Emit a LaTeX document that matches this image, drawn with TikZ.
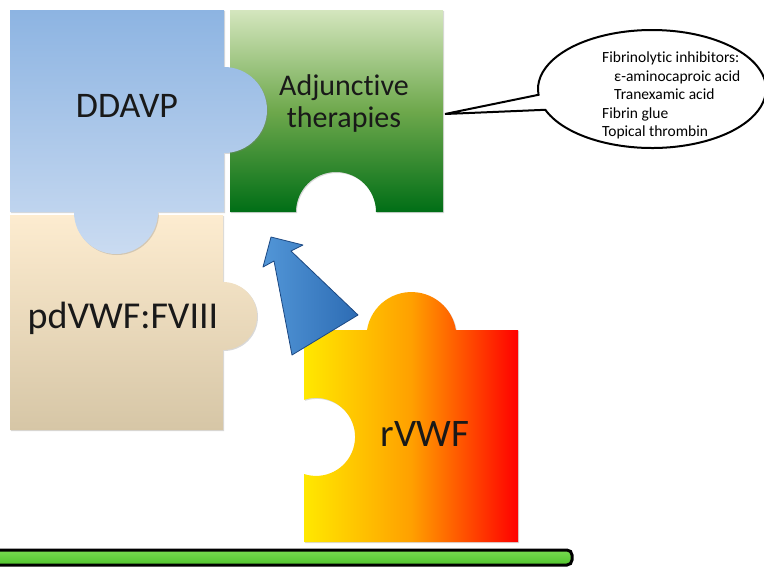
\documentclass[tikz,border=0pt]{standalone}
\usepackage{fontspec}
\setmainfont{Carlito}[Ligatures=NoCommon]
\usetikzlibrary{shapes.callouts, shadows, positioning}

\definecolor{ddavpTop}{RGB}{141,180,226}
\definecolor{ddavpBot}{RGB}{202,219,241}
\definecolor{adjTop}{RGB}{212,230,190}
\definecolor{adjMid}{RGB}{110,168,76}
\definecolor{adjBot}{RGB}{0,110,22}
\definecolor{pdTop}{RGB}{253,236,208}
\definecolor{pdBot}{RGB}{214,198,166}
\definecolor{rvLeft}{RGB}{255,232,0}
\definecolor{rvMid}{RGB}{255,160,0}
\definecolor{rvRight}{RGB}{255,0,0}
\definecolor{arrowLight}{RGB}{82,150,215}
\definecolor{arrowBlue}{RGB}{45,108,180}
\definecolor{arrowEdge}{RGB}{28,72,130}
\definecolor{barLight}{RGB}{120,220,80}
\definecolor{barGreen}{RGB}{80,196,45}

\begin{document}
\begin{tikzpicture}[x=1pt, y=-1pt,
    piece/.style={drop shadow={opacity=0.3, shadow xshift=1pt, shadow yshift=-1pt}},
    piecelabel/.style={font=\fontsize{36}{40}\selectfont, text=black!90, inner sep=0pt},
    bubblestyle/.style={ellipse callout, draw, line width=2pt, fill=white, minimum width=228pt, minimum height=118pt, inner sep=0pt},
    listtext/.style={font=\fontsize{15.5}{18.5}\selectfont, align=left, anchor=north west, inner sep=0pt}
]
\useasboundingbox (0,0) rectangle (764,568);

% puzzle pieces
\path[piece, top color=pdTop, bottom color=pdBot]
    (10,215) -- (223,215) -- (223,282) arc (-90:90:34) -- (223,430) -- (10,430) -- cycle;
\path[piece, top color=adjTop, bottom color=adjBot, middle color=adjMid]
    (230,10) -- (443,10) -- (443,212) -- (376,212) arc (0:-180:40) -- (230,212) -- cycle;
\path[piece, top color=ddavpTop, bottom color=ddavpBot]
    (10,10) -- (224,10) -- (224,67) arc (-90:90:43) -- (224,212) -- (158,212) arc (0:180:42) -- (10,212) -- cycle;
\path[piece, left color=rvLeft, right color=rvRight, middle color=rvMid]
    (304,330) -- (367,330) arc (189:351:45) -- (518,330) -- (518,542) -- (304,542) -- (304,474) arc (108:-108:39) -- cycle;

% block arrow
\path[left color=arrowLight, right color=arrowBlue, draw=arrowEdge, line width=0.8pt, line join=round]
    (263,267) -- (271,237) -- (303,245) -- (291,251) -- (358,315) -- (292,355) -- (274,261) -- cycle;

% labels
\node[piecelabel, anchor=base] (ddavp) at (127,117) {DDAVP};
\node[piecelabel, font=\fontsize{30}{32}\selectfont, align=center] (adjunct) at (344,103) {Adjunctive\\therapies};
\node[piecelabel, font=\fontsize{38}{40}\selectfont, anchor=base] (pdvwf) at (123,328) {pdVWF:FVIII};
\node[piecelabel, font=\fontsize{39}{40}\selectfont, anchor=base] (rvwf) at (425,446) {rVWF};

% callout
\coordinate (adjtip) at (445,114);
\node[bubblestyle, callout absolute pointer={(adjtip)}] (bubble) at (652,89) {};
\node[listtext] (bubbletext) at (602,52) {Fibrinolytic inhibitors:\\\hspace*{12pt}ε-aminocaproic acid\\\hspace*{12pt}Tranexamic acid\\Fibrin glue\\Topical thrombin};

% base bar
\path[draw=black, line width=3pt, rounded corners=5pt, top color=barLight, bottom color=barGreen]
    (-8,550) rectangle (572,565);

\end{tikzpicture}
\end{document}
